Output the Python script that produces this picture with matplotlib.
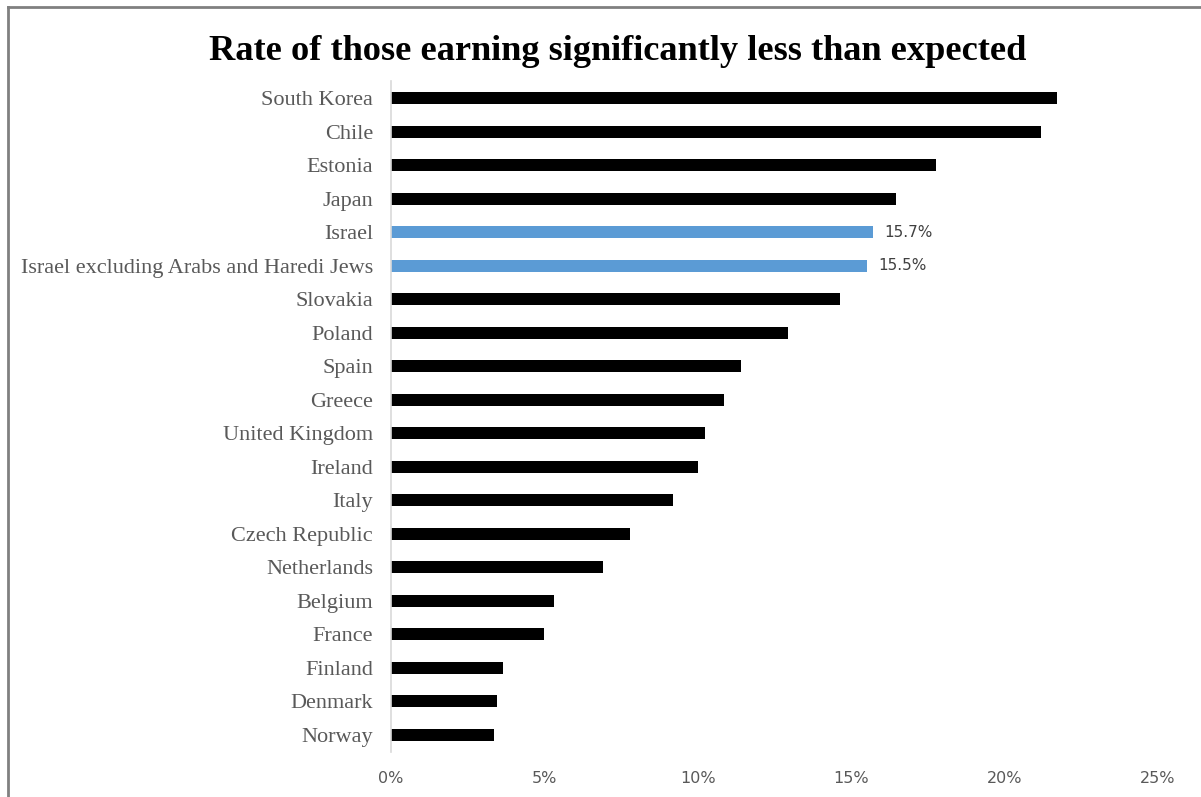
import numpy as np
import matplotlib
matplotlib.use("Agg")
import matplotlib.pyplot as plt
from matplotlib.lines import Line2D

# countries, top to bottom
countries = ["South Korea", "Chile", "Estonia", "Japan", "Israel",
             "Israel excluding Arabs and Haredi Jews", "Slovakia", "Poland",
             "Spain", "Greece", "United Kingdom", "Ireland", "Italy",
             "Czech Republic", "Netherlands", "Belgium", "France", "Finland",
             "Denmark", "Norway"]
rates = [21.7, 21.2, 17.75, 16.45, 15.7, 15.5, 14.65, 12.95, 11.4, 10.85,
         10.25, 10.0, 9.2, 7.8, 6.9, 5.3, 5.0, 3.65, 3.45, 3.35]
highlight = ["Israel", "Israel excluding Arabs and Haredi Jews"]
xticks = [0, 5, 10, 15, 20, 25]

fig = plt.figure(figsize=(12.01, 7.97), dpi=100)
ax = fig.add_axes([0.3256, 0.0568, 0.6386, 0.8412])

y = np.arange(len(countries))
colors = ["#5B9BD5" if c in highlight else "black" for c in countries]
ax.barh(y, rates, height=0.36, color=colors)

for i, (c, r) in enumerate(zip(countries, rates)):
    if c in highlight:
        ax.text(r + 0.38, i, "%.1f%%" % r, va="center", ha="left",
                fontsize=11, color="#404040", family="DejaVu Sans")

ax.set_ylim(len(countries) - 0.5, -0.5)
ax.set_xlim(0, 25)
ax.set_yticks(y)
ax.set_yticklabels(countries, family="Liberation Serif", fontsize=16.0,
                   color="#595959")
ax.set_xticks(xticks)
ax.set_xticklabels(["%d%%" % t for t in xticks], family="DejaVu Sans",
                   fontsize=11.5, color="#595959")
ax.tick_params(axis="both", length=0)
ax.tick_params(axis="y", pad=13)
ax.tick_params(axis="x", pad=14)
for s in ["top", "right", "bottom"]:
    ax.spines[s].set_visible(False)
ax.spines["left"].set_color("#d9d9d9")
ax.spines["left"].set_linewidth(1.2)

fig.text(0.514, 0.936, "Rate of those earning significantly less than expected",
         ha="center", va="center", family="Liberation Serif",
         fontweight="bold", fontsize=26.2)

# outer frame on the left and top
fig.add_artist(Line2D([0.0065, 0.0065], [0, 0.9915], color="#808080", lw=2))
fig.add_artist(Line2D([0.0065, 1], [0.9915, 0.9915], color="#808080", lw=2))

fig.savefig("out.png", dpi=100)
